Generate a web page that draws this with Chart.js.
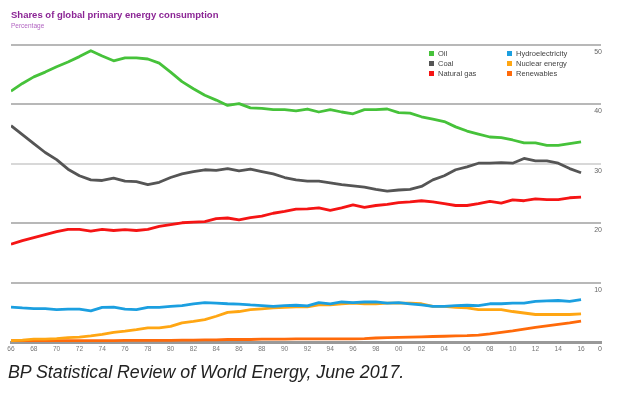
<!DOCTYPE html>
<html>
<head>
<meta charset="utf-8">
<script src="https://cdn.jsdelivr.net/npm/chart.js@4"></script>
<style>
  body { margin: 0; background: #fff; font-family: "Liberation Sans", Arial, sans-serif; }
  #wrap { position: relative; width: 624px; height: 394px; }
  canvas { position: absolute; left: 0; top: 0; }
  .title { position: absolute; left: 11px; top: 9px; font-size: 9.5px; font-weight: bold; color: #8b2595; white-space: nowrap; }
  .sub { position: absolute; left: 11px; top: 22px; font-size: 6.5px; color: #b266c2; }
  .leg { position: absolute; font-size: 7.5px; color: #444; white-space: nowrap; line-height: 9px; }
  .leg i { display: inline-block; width: 5px; height: 5px; margin-right: 4px; vertical-align: 0px; }
  .caption { position: absolute; left: 8px; top: 362px; font-size: 17.8px; font-style: italic; color: #222; white-space: nowrap; }
</style>
</head>
<body>
<div id="wrap">
  <canvas id="grafico" width="624" height="394"></canvas>
  <div class="title">Shares of global primary energy consumption</div>
  <div class="sub">Percentage</div>
  <div id="legenda"></div>
  <div class="caption">BP Statistical Review of World Energy, June 2017.</div>
</div>
<script>
const anos = [1966, 1967, 1968, 1969, 1970, 1971, 1972, 1973, 1974, 1975,
              1976, 1977, 1978, 1979, 1980, 1981, 1982, 1983, 1984, 1985,
              1986, 1987, 1988, 1989, 1990, 1991, 1992, 1993, 1994, 1995,
              1996, 1997, 1998, 1999, 2000, 2001, 2002, 2003, 2004, 2005,
              2006, 2007, 2008, 2009, 2010, 2011, 2012, 2013, 2014, 2015,
              2016];

const oil = [42.2, 43.5, 44.6, 45.4, 46.3, 47.1, 48.0, 49.0, 48.1, 47.3,
             47.8, 47.8, 47.6, 46.9, 45.4, 43.8, 42.6, 41.5, 40.7, 39.8,
             40.1, 39.4, 39.3, 39.1, 39.1, 38.9, 39.2, 38.7, 39.1, 38.7,
             38.4, 39.1, 39.1, 39.2, 38.6, 38.5, 37.9, 37.5, 37.1, 36.2,
             35.5, 35.0, 34.5, 34.4, 34.0, 33.5, 33.5, 33.1, 33.1, 33.4,
             33.7];

const coal = [36.4, 34.9, 33.4, 31.9, 30.7, 29.1, 28.0, 27.3, 27.2, 27.6,
              27.1, 27.0, 26.5, 26.9, 27.7, 28.3, 28.7, 29.0, 28.9, 29.2,
              28.8, 29.1, 28.7, 28.3, 27.7, 27.3, 27.1, 27.1, 26.8, 26.5,
              26.3, 26.1, 25.7, 25.4, 25.6, 25.7, 26.2, 27.3, 28.0, 29.0,
              29.5, 30.1, 30.1, 30.2, 30.1, 30.9, 30.5, 30.5, 30.1, 29.2,
              28.5];

const gas = [16.5, 17.1, 17.6, 18.1, 18.6, 19.0, 19.0, 18.7, 19.0, 18.8,
             18.95, 18.8, 19.0, 19.5, 19.8, 20.1, 20.2, 20.3, 20.8, 20.9,
             20.6, 20.95, 21.2, 21.7, 22.0, 22.4, 22.45, 22.6, 22.2, 22.6,
             23.1, 22.7, 23.0, 23.2, 23.5, 23.6, 23.8, 23.6, 23.3, 23.0,
             23.0, 23.3, 23.7, 23.4, 23.95, 23.8, 24.1, 24.0, 24.0, 24.3,
             24.4];

const hydro = [5.95, 5.8, 5.7, 5.7, 5.5, 5.6, 5.6, 5.3, 5.9, 5.95,
               5.6, 5.5, 5.9, 5.9, 6.05, 6.2, 6.5, 6.7, 6.6, 6.5,
               6.45, 6.3, 6.2, 6.05, 6.2, 6.25, 6.15, 6.7, 6.5, 6.8,
               6.7, 6.8, 6.8, 6.6, 6.7, 6.5, 6.3, 6.05, 6.05, 6.2,
               6.25, 6.2, 6.5, 6.5, 6.6, 6.6, 6.9, 7.0, 7.05, 6.9,
               7.2];

const nuclear = [0.3, 0.4, 0.55, 0.55, 0.65, 0.8, 0.9, 1.1, 1.35, 1.7,
                 1.9, 2.15, 2.45, 2.45, 2.7, 3.3, 3.55, 3.85, 4.4, 5.05,
                 5.2, 5.5, 5.65, 5.8, 5.9, 6.0, 6.0, 6.3, 6.3, 6.5,
                 6.6, 6.5, 6.5, 6.6, 6.6, 6.6, 6.5, 6.05, 6.05, 5.9,
                 5.8, 5.5, 5.5, 5.5, 5.2, 4.95, 4.7, 4.7, 4.7, 4.7,
                 4.8];

const renewables = [0.3, 0.3, 0.3, 0.3, 0.3, 0.3, 0.3, 0.3, 0.3, 0.3,
                    0.35, 0.35, 0.35, 0.35, 0.35, 0.4, 0.4, 0.45, 0.45, 0.5,
                    0.5, 0.5, 0.55, 0.55, 0.55, 0.6, 0.6, 0.6, 0.6, 0.6,
                    0.6, 0.65, 0.75, 0.8, 0.85, 0.9, 0.95, 1.0, 1.05, 1.1,
                    1.15, 1.25, 1.45, 1.7, 1.95, 2.25, 2.55, 2.8, 3.05, 3.3,
                    3.6];

const series = [
    { label: 'Oil', data: oil, cor: '#46c23a' },
    { label: 'Coal', data: coal, cor: '#555555' },
    { label: 'Natural gas', data: gas, cor: '#f51414' },
    { label: 'Hydroelectricity', data: hydro, cor: '#1b9fe0' },
    { label: 'Nuclear energy', data: nuclear, cor: '#ffa613' },
    { label: 'Renewables', data: renewables, cor: '#ff6a0a' },
];

// legenda em duas colunas, como no original
const legenda = document.getElementById('legenda');
series.forEach((s, i) => {
    const col = Math.floor(i / 3), row = i % 3;
    const el = document.createElement('div');
    el.className = 'leg';
    el.style.left = (429 + col * 78) + 'px';
    el.style.top = (49 + row * 10) + 'px';
    el.innerHTML = '<i style="background:' + s.cor + '"></i>' + s.label;
    legenda.appendChild(el);
});

const ctx = document.getElementById('grafico');

new Chart(ctx, {
    type: 'line',
    data: {
        datasets: series.map(s => ({
            label: s.label,
            data: s.data.map((v, i) => ({ x: anos[i], y: v })),
            borderColor: s.cor,
            borderWidth: 2.8,
            pointRadius: 0,
            tension: 0,
            borderJoinStyle: 'round',
        }))
    },
    options: {
        responsive: false,
        animation: false,
        layout: { padding: { left: 11, right: 21, top: 44.7, bottom: 37.6 } },
        plugins: { legend: { display: false }, tooltip: { enabled: false } },
        scales: {
            x: {
                type: 'linear',
                min: 1966,
                max: 2017.75,
                grid: { display: false, drawTicks: false },
                border: { color: '#999', width: 3 },
                ticks: {
                    stepSize: 2,
                    includeBounds: false,
                    autoSkip: false,
                    maxRotation: 0,
                    padding: 3,
                    color: '#777',
                    font: { size: 6.6, family: 'Liberation Sans' },
                    callback: v => Number.isInteger(v) && v % 2 === 0 ? String(v % 100).padStart(2, '0') : ''
                }
            },
            y: {
                position: 'right',
                min: 0,
                max: 50,
                grid: {
                    drawTicks: false,
                    lineWidth: 2,
                    color: c => c.tick.value === 0 ? 'rgba(0,0,0,0)' : (c.tick.value === 30 ? '#d8d8d8' : '#b8b8b8')
                },
                border: { display: false },
                ticks: {
                    stepSize: 10,
                    mirror: true,
                    padding: 1,
                    labelOffset: 7,
                    color: '#666',
                    font: { size: 7, family: 'Liberation Sans' }
                }
            }
        }
    }
});
</script>
</body>
</html>
